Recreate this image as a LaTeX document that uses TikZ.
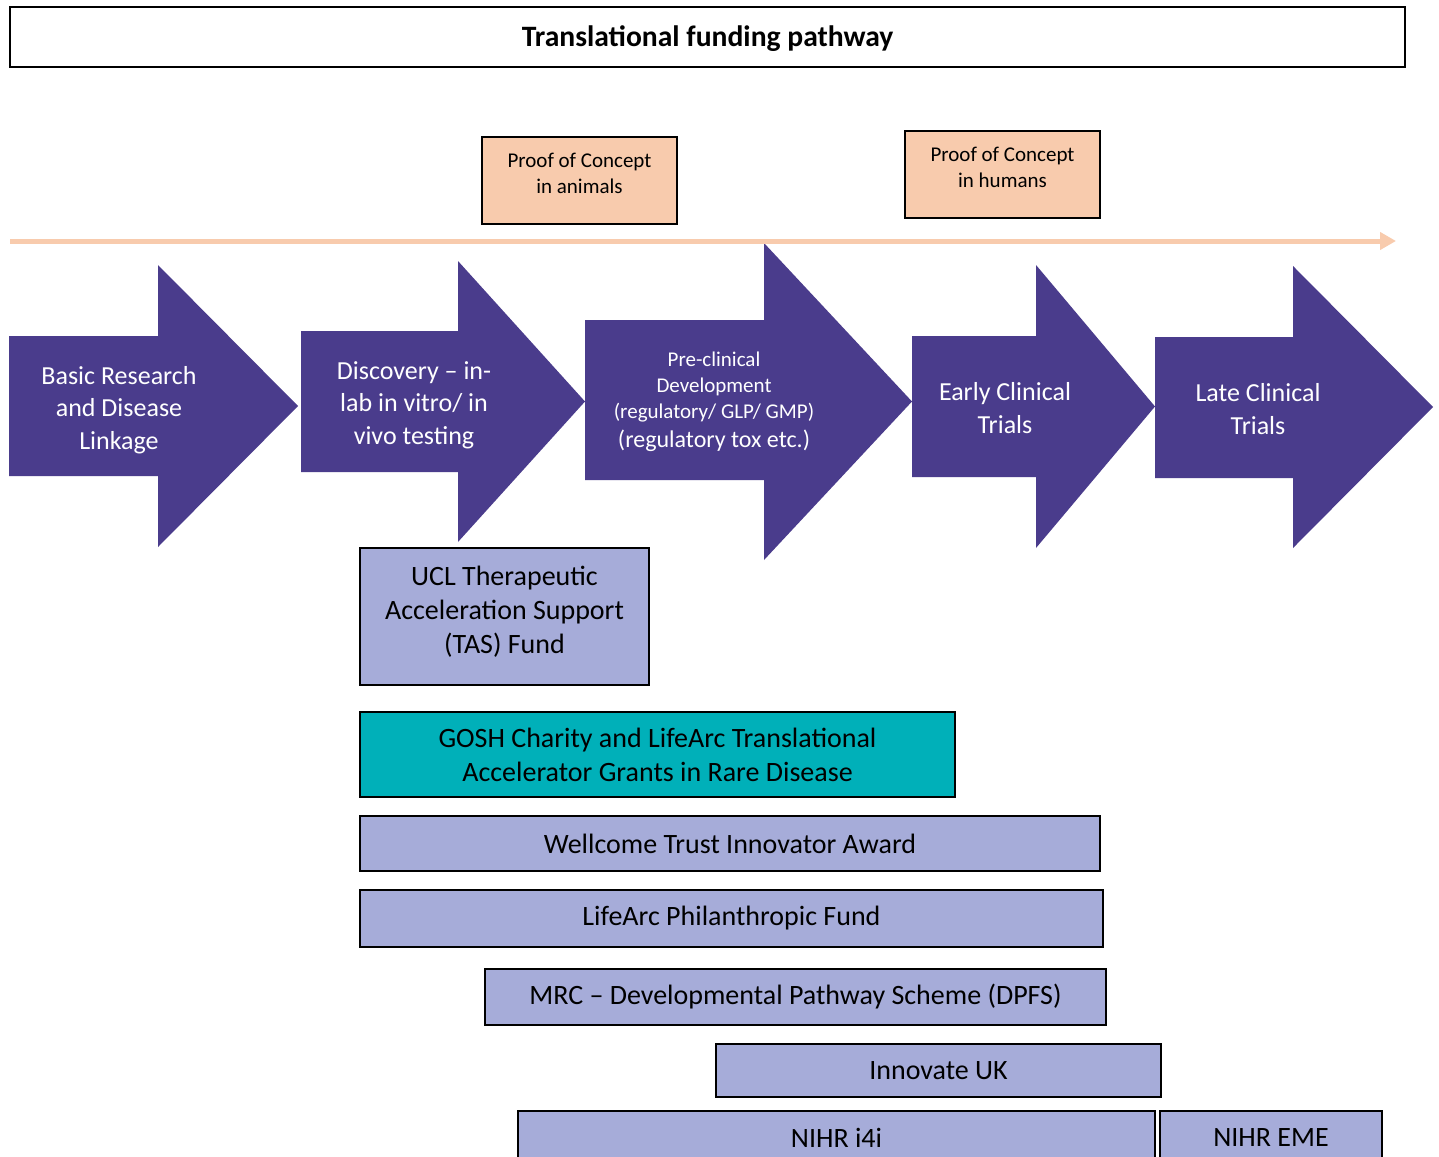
\documentclass[tikz,border=0pt]{standalone}
\usepackage{fontspec}
\setmainfont{Carlito}
\usetikzlibrary{arrows.meta}
\definecolor{stagepurple}{HTML}{4A3C8C}
\definecolor{peach}{HTML}{F8CBAD}
\definecolor{lavender}{HTML}{A6ACD9}
\definecolor{goshteal}{HTML}{00B0B9}
\tikzset{
  stage/.style={fill=stagepurple},
  stagetext/.style={text=white, align=center, inner sep=0pt, font=\fontsize{13}{16.25}\selectfont},
  pocbox/.style={draw=black, line width=0.75pt, fill=peach},
  poctext/.style={align=center, inner sep=0pt, font=\fontsize{10.5}{13}\selectfont},
  fund/.style={draw=black, line width=0.75pt, fill=lavender, align=center, inner sep=0pt, font=\fontsize{14}{17}\selectfont},
  timeline/.style={draw=peach, line width=2.5pt, -{Triangle[length=8pt,width=8.5pt]}}
}
% left : neck : body top : body bottom : head top : head bottom : tip
\def\stagearrow(#1:#2:#3:#4:#5:#6:#7){\fill[stage] (#1,#3) -- (#2,#3) -- (#2,#5) -- (#7,{(#5+#6)/2}) -- (#2,#6) -- (#2,#4) -- (#1,#4) -- cycle;}

\begin{document}
\begin{tikzpicture}[x=0.5pt,y=-0.5pt]
		\clip (0,0) rectangle (1439,1156);
		\fill[white] (0,0) rectangle (1439,1156);
		
		% title
		\node[draw=black, line width=0.75pt, minimum width=697.5pt, minimum height=30pt, inner sep=0pt] (title) at (707.5,37) {};
		\node[font=\fontsize{14.8}{18}\selectfont\bfseries, inner sep=0pt] (titletext) at (707.5,39) {Translational funding pathway};
		
		% proof of concept
		\draw[pocbox] (482,137) rectangle (677,224);
		\node[poctext] (pocanimals) at (579.5,173) {Proof of Concept\\in animals};
		\draw[pocbox] (905,131) rectangle (1100,218);
		\node[poctext] (pochumans) at (1002.5,167) {Proof of Concept\\in humans};
		
		% stages
		\stagearrow(9:158:336:476:265:547:298)
		\stagearrow(301:458:331:472:261:542:585)
		\stagearrow(585:764:320:480:243:560:912)
		\stagearrow(912:1036:336:477:265:548:1155)
		\stagearrow(1155:1293:337:478:266:548:1433)
		
		\node[stagetext] (basic) at (119,410) {Basic Research\\and Disease\\Linkage};
		\node[stagetext] (discovery) at (414,405) {Discovery -- in-\\lab in vitro/ in\\vivo testing};
		\node[stagetext, font=\fontsize{10.5}{13}\selectfont] (preclin) at (714,402) {Pre-clinical\\Development\\(regulatory/ GLP/ GMP)\\[1.5pt]\fontsize{12}{14}\selectfont (regulatory tox etc.)};
		\node[stagetext] (early) at (1005,408) {Early Clinical\\Trials};
		\node[stagetext] (late) at (1258,409) {Late Clinical\\Trials};
		
		% timeline
		\coordinate (tlstart) at (10,241);
		\coordinate (tlend) at (1396,241);
		\draw[timeline] (tlstart) -- (tlend);
		
		% funding schemes
		\node[fund, minimum width=144.5pt, minimum height=68.5pt] (ucl) at (504.5,616.5) {};
		\node[fund, draw=none, fill=none] (ucltext) at (504.5,611.5) {UCL Therapeutic\\Acceleration Support\\(TAS) Fund};
		\node[fund, fill=goshteal, minimum width=297.5pt, minimum height=42.5pt] (gosh) at (657.5,754.5) {GOSH Charity and LifeArc Translational\\Accelerator Grants in Rare Disease};
		\node[fund, minimum width=370pt, minimum height=27.5pt] (wellcome) at (730,843.5) {Wellcome Trust Innovator Award};
		\node[fund, minimum width=371.5pt, minimum height=28.5pt] (lifearc) at (731.5,918.5) {LifeArc Philanthropic Fund};
		\node[fund, minimum width=310.5pt, minimum height=28pt] (mrc) at (795.5,997) {MRC -- Developmental Pathway Scheme (DPFS)};
		\node[fund, minimum width=222.5pt, minimum height=26.5pt] (innovate) at (938.5,1070.5) {Innovate UK};
		\node[fund, minimum width=318.5pt, minimum height=27pt] (i4i) at (836.5,1138) {NIHR i4i};
		\node[fund, minimum width=111pt, minimum height=27pt] (eme) at (1271,1138) {NIHR EME};
		
\end{tikzpicture}
\end{document}
